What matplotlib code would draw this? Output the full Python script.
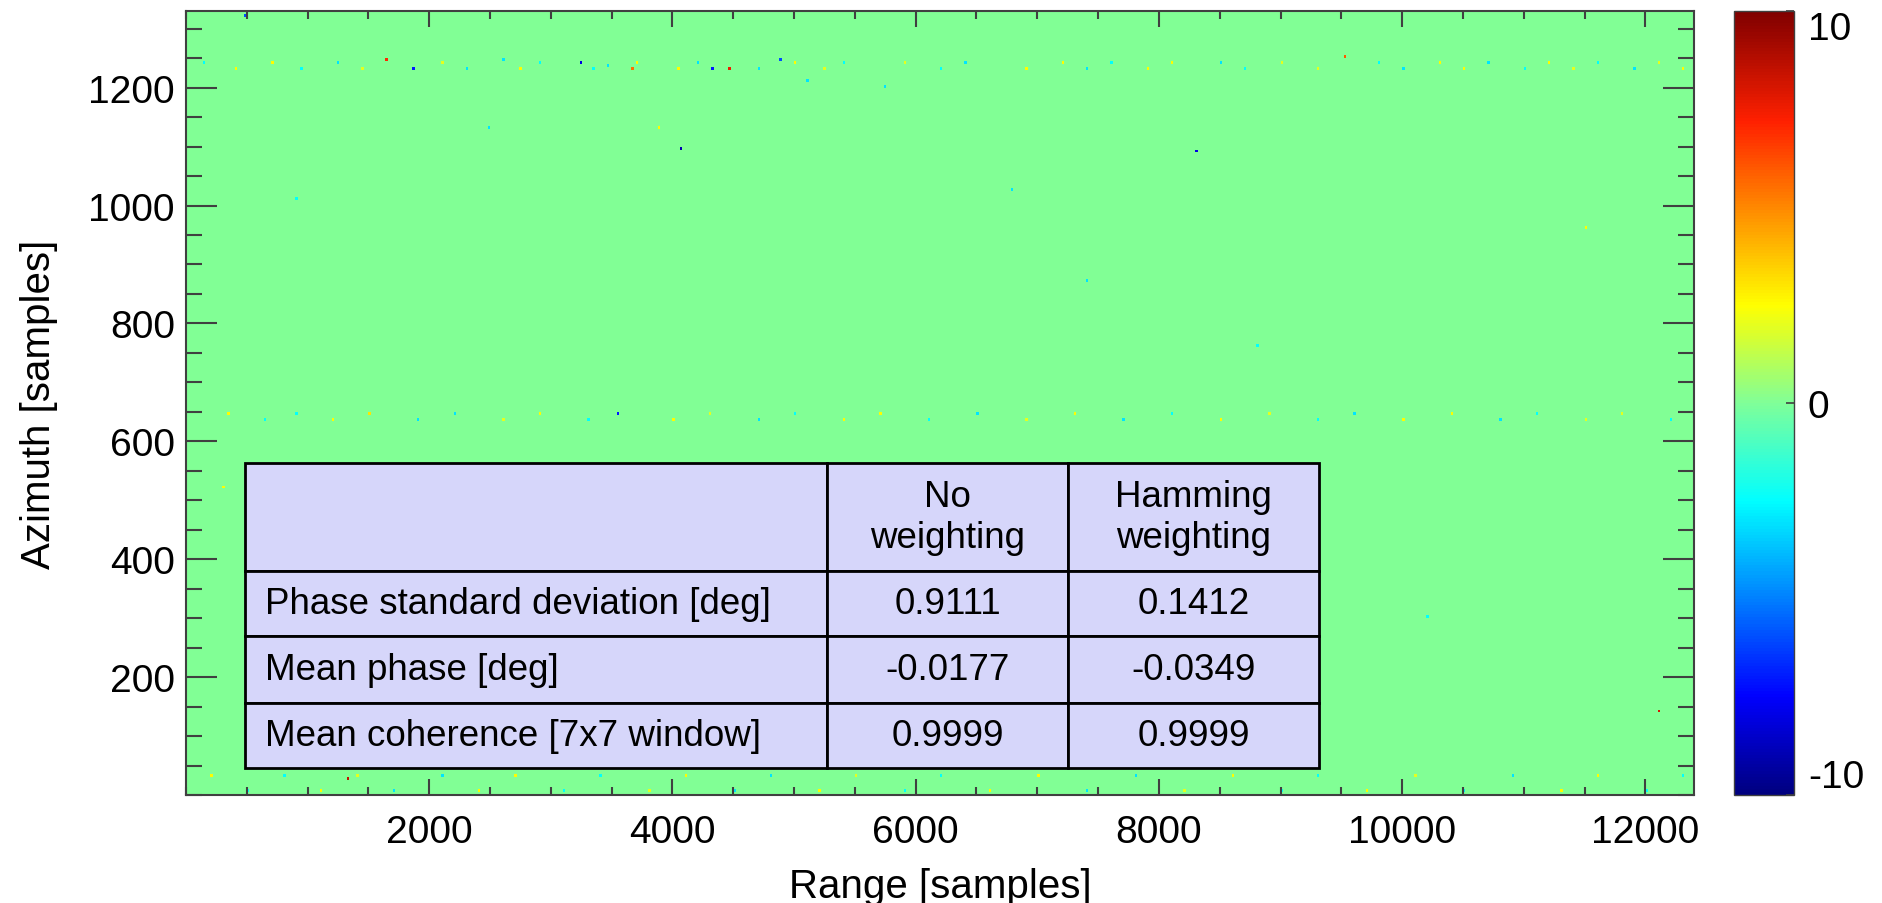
import numpy as np
import matplotlib.pyplot as plt
from matplotlib.colors import LinearSegmentedColormap
from matplotlib.ticker import MultipleLocator

plt.rcParams['font.family'] = ['Liberation Sans', 'DejaVu Sans']
plt.rcParams['axes.unicode_minus'] = False

# axes extent of the phase image
range_max = 12400
azimuth_max = 1330
x_ticks = [2000, 4000, 6000, 8000, 10000, 12000]
y_ticks = [200, 400, 600, 800, 1000, 1200]
cbar_ticks = [-10, 0, 10]

# isolated speckles (range, azimuth, phase [deg])
spot_range = [490, 1645, 1860, 3240, 3660, 4320, 4460, 4880, 2600, 3470, 5100, 5740, 2490, 3890,
              4060, 8310, 6780, 9520, 12100, 1320, 300, 7400, 10200, 11500, 900, 6100, 8800, 2800]
spot_azimuth = [1322, 1246, 1231, 1241, 1231, 1231, 1231, 1246, 1246, 1236, 1213, 1202, 1130, 1132,
                1098, 1091, 1025, 1251, 143, 25, 520, 870, 300, 960, 1010, 400, 760, 60]
spot_value = [-6.0, 7.0, -7.0, -8.0, 5.5, -7.0, 7.5, -6.0, -3.0, -3.0, -3.0, -3.0, -3.0, 2.5,
              -9.0, -8.0, -3.0, 6.0, 8.0, 8.5, 2.5, -3.0, -2.5, 2.5, -2.5, 2.5, -2.5, -3.0]

# faint noise along a few azimuth lines
band_azimuth = [1244, 1231, 646, 636, 32, 8]
band_range = [
    [150, 700, 1250, 2100, 2900, 3700, 4200, 5000, 5400, 5900, 6400, 7200, 7600, 8100, 8500, 9000,
     9800, 10300, 10700, 11200, 11600, 12100],
    [400, 950, 1450, 2300, 2750, 3350, 4050, 4700, 5250, 6200, 6900, 7400, 7900, 8700, 9300, 10000,
     10500, 11000, 11400, 11900, 12300],
    [350, 900, 1500, 2200, 2900, 3550, 4300, 5000, 5700, 6500, 7300, 8100, 8900, 9600, 10400, 11100,
     11800],
    [650, 1200, 1900, 2600, 3300, 4000, 4700, 5400, 6100, 6900, 7700, 8500, 9300, 10000, 10800,
     11500, 12200],
    [200, 800, 1400, 2100, 2700, 3400, 4100, 4800, 5500, 6200, 7000, 7800, 8600, 9300, 10100, 10900,
     11600, 12300],
    [500, 1100, 1700, 2400, 3100, 3800, 4500, 5200, 5900, 6600, 7400, 8200, 9000, 9700, 10500, 11300,
     12000],
]
band_value = [
    [-2.5, 2.5, -3.0, 2.0, -2.5, 2.5, -3.0, 2.5, -2.5, 2.0, -3.0, 2.5, -2.5, 2.5, -3.0, 2.0, -2.5,
     2.5, -3.0, 2.5, -2.5, 2.0],
    [2.5, -2.5, 2.0, -3.0, 2.5, -2.5, 2.5, -3.0, 2.0, -2.5, 2.5, -3.0, 2.5, -2.5, 2.0, -3.0, 2.5,
     -2.5, 2.0, -3.0, 2.5],
    [2.5, -2.5, 3.0, -3.0, 2.5, -7.0, 2.0, -2.5, 2.5, -3.0, 2.5, -2.5, 2.0, -3.0, 2.5, -2.5, 2.0],
    [-2.5, 2.5, -3.0, 2.0, -2.5, 2.5, -3.0, 2.5, -2.5, 2.0, -3.0, 2.5, -2.5, 2.5, -3.0, 2.0, -2.5],
    [2.5, -2.5, 2.0, -3.0, 2.5, -2.5, 2.5, -3.0, 2.0, -2.5, 2.5, -3.0, 2.5, -2.5, 2.0, -3.0, 2.5, -2.5],
    [-2.5, 2.5, -3.0, 2.5, -2.5, 2.0, -3.0, 2.5, -2.5, 2.5, -3.0, 2.0, -2.5, 2.5, -3.0, 2.5, -2.5],
]

# statistics table
col_labels = ['', 'No\nweighting', 'Hamming\nweighting']
row_labels = ['Phase standard deviation [deg]', 'Mean phase [deg]', 'Mean coherence [7x7 window]']
no_weighting = ['0.9111', '-0.0177', '0.9999']
hamming = ['0.1412', '-0.0349', '0.9999']

# build the phase image on a coarse grid (20 range x 5 azimuth samples per cell)
dx, dy = 20, 5
phase = np.zeros((azimuth_max // dy, range_max // dx))
for r, a, v in zip(spot_range, spot_azimuth, spot_value):
    phase[a // dy, r // dx] = v
for a, rs, vs in zip(band_azimuth, band_range, band_value):
    for r, v in zip(rs, vs):
        phase[a // dy, r // dx] = v

# IDL-like rainbow, slightly minty in the middle
cmap = LinearSegmentedColormap.from_list('idl_rainbow', [
    (0.0, '#00007F'), (0.125, '#0000FF'), (0.375, '#00FFFF'), (0.5, '#80FF98'),
    (0.625, '#FFFF00'), (0.86, '#FF2000'), (1.0, '#800000')])

fig = plt.figure(figsize=(18.83, 9.04), dpi=100)
ax = fig.add_axes([186 / 1883, 108 / 904, 1508 / 1883, 784 / 904])
cax = fig.add_axes([1734 / 1883, 108 / 904, 60 / 1883, 784 / 904])

im = ax.imshow(phase, origin='lower', extent=[0, range_max, 0, azimuth_max], cmap=cmap,
               vmin=-10, vmax=10, aspect='auto', interpolation='nearest')
ax.set_xlim(0, range_max)
ax.set_ylim(0, azimuth_max)

gray = '#404040'
ax.set_xticks(x_ticks)
ax.set_yticks(y_ticks)
ax.xaxis.set_minor_locator(MultipleLocator(500))
ax.yaxis.set_minor_locator(MultipleLocator(50))
ax.tick_params(axis='x', which='major', direction='in', length=11.5, width=1.5, color=gray,
               top=True, bottom=True, labelsize=28, pad=14)
ax.tick_params(axis='x', which='minor', direction='in', length=6, width=1.5, color=gray,
               top=True, bottom=True)
ax.tick_params(axis='y', which='major', direction='in', length=22, width=1.5, color=gray,
               left=True, right=True, labelsize=28, pad=8)
ax.tick_params(axis='y', which='minor', direction='in', length=11.5, width=1.5, color=gray,
               left=True, right=True)
for sp in ax.spines.values():
    sp.set_linewidth(1.5)
    sp.set_color(gray)

ax.set_xlabel('Range [samples]', fontsize=29)
ax.xaxis.set_label_coords(0.5, -0.092)
ax.set_ylabel('Azimuth [samples]', fontsize=29)
ax.yaxis.set_label_coords(-0.085, 0.5)

# colorbar
cb = fig.colorbar(im, cax=cax, ticks=cbar_ticks)
cb.outline.set_linewidth(1.0)
cb.outline.set_edgecolor(gray)
cax.tick_params(direction='in', length=6, width=1.2, color=gray, labelsize=28, pad=10)
labels = cax.get_yticklabels()
labels[0].set_va('bottom')
labels[-1].set_va('top')

# table
cell_text = [col_labels] + [[lab, a, b] for lab, a, b in zip(row_labels, no_weighting, hamming)]
tab = ax.table(cellText=cell_text, colWidths=[582, 241, 251], cellLoc='center',
               bbox=[59 / 1508, 27 / 784, 1074 / 1508, 305 / 784])
tab.auto_set_font_size(False)
row_heights = [108, 65, 67, 65]
for (r, c), cell in tab.get_celld().items():
    cell.set_height(row_heights[r])
    cell.set_facecolor('#D6D6FA')
    cell.set_edgecolor('black')
    cell.set_linewidth(2.0)
    cell.get_text().set_fontsize(26.5)
    if c == 0 and r > 0:
        cell._loc = 'left'
        cell.PAD = 0.034
        cell.get_text().set_ha('left')

fig.savefig('out.png', dpi=100)
